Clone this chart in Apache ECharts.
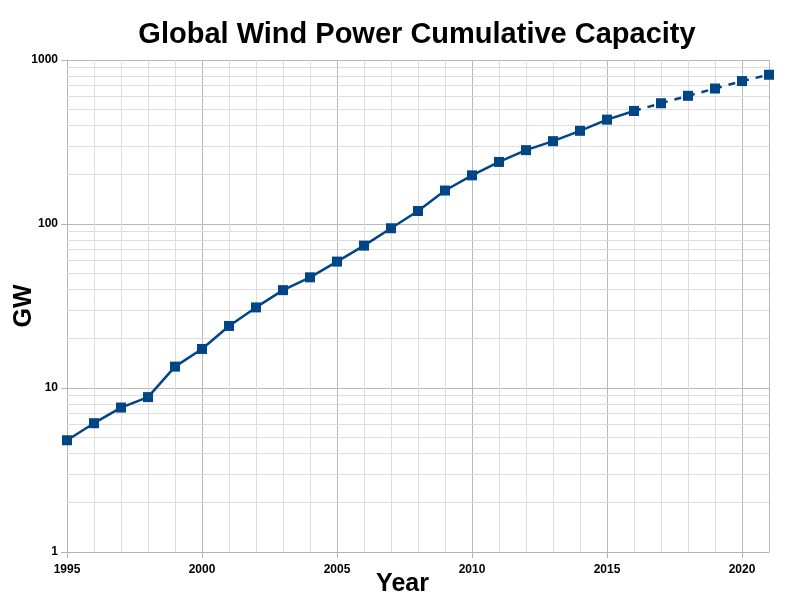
<!DOCTYPE html>
<html><head><meta charset="utf-8">
<script src="https://cdn.jsdelivr.net/npm/echarts@6/dist/echarts.min.js"></script>
<style>html,body{margin:0;padding:0;background:#fff}#c{width:800px;height:600px}</style>
</head><body><div id="c"></div>
<script>
const years = [1995,1996,1997,1998,1999,2000,2001,2002,2003,2004,2005,2006,2007,2008,2009,2010,2011,2012,2013,2014,2015,2016,2017,2018,2019,2020,2021];
const capacityActual = [4.8,6.1,7.6,8.8,13.5,17.3,23.9,31.0,39.5,47.3,59.0,73.8,94.2,120,160,198,239,282,320,370,433,489,null,null,null,null,null];
const capacityProjected = [null,null,null,null,null,null,null,null,null,null,null,null,null,null,null,null,null,null,null,null,null,489,545,605,670,744,813];
const xTickLabels = [1995,2000,2005,2010,2015,2020];
const yMinorGrid = [2,3,4,5,6,7,8,9,20,30,40,50,60,70,80,90,200,300,400,500,600,700,800,900];

const font = '"Liberation Sans", Arial, sans-serif';
const blue = '#004586';
const chart = echarts.init(document.getElementById('c'), null, {renderer:'canvas'});
chart.setOption({
  animation:false,
  backgroundColor:'#fff',
  title:{text:'Global Wind Power Cumulative Capacity', left:412, top:15, textAlign:'center',
    textStyle:{fontFamily:font, fontWeight:'bold', fontSize:29, color:'#000'}},
  grid:{left:67, right:31, top:60, bottom:48, containLabel:false, outerBoundsMode:'none'},
  xAxis:[
    {type:'value', min:1995, max:2021, interval:1, position:'bottom',
      axisLine:{show:true, onZero:false, lineStyle:{color:'#b3b3b3', width:1}},
      axisTick:{show:false}, axisLabel:{show:false},
      splitLine:{show:true, lineStyle:{color:'#dddddd', width:1}}
    },
    {type:'value', min:1995, max:2021, interval:5, position:'bottom', offset:0,
      name:'Year', nameLocation:'middle', nameGap:20, nameMoveOverlap:false,
      nameTextStyle:{fontFamily:font, fontWeight:'bold', fontSize:25, color:'#000', padding:[0,31,0,0]},
      axisLine:{show:false, onZero:false},
      axisTick:{show:true, length:6, lineStyle:{color:'#b3b3b3'}},
      axisLabel:{formatter:v=>(xTickLabels.indexOf(v)>=0 ? String(v) : ''), fontFamily:font, fontWeight:'bold', fontSize:12, color:'#000', margin:12, showMaxLabel:false},
      splitLine:{show:true, lineStyle:{color:'#b8b8b8', width:1}}
    }
  ],
  yAxis:{type:'log', logBase:10, min:1, max:1000,
    name:'GW', nameLocation:'middle', nameGap:30, nameRotate:90, nameMoveOverlap:false,
    nameTextStyle:{fontFamily:font, fontWeight:'bold', fontSize:25, color:'#000'},
    axisLine:{show:true, lineStyle:{color:'#b3b3b3', width:1}},
    axisTick:{show:true, length:6, lineStyle:{color:'#b3b3b3'}},
    axisLabel:{formatter:v=>String(v), fontFamily:font, fontWeight:'bold', fontSize:12, color:'#000', margin:9},
    splitLine:{show:true, lineStyle:{color:'#b8b8b8', width:1}}
  },
  series:[
    {type:'line', data:[], z:1, silent:true,
      markLine:{silent:true, z:1, symbol:'none', label:{show:false},
        lineStyle:{color:'#dddddd', width:1, type:'solid'},
        emphasis:{disabled:true},
        data:yMinorGrid.map(v=>({yAxis:v}))}},
    {type:'line', data:years.map((y,i)=>[y,capacityActual[i]]), connectNulls:false,
      symbol:'rect', symbolSize:10, z:3,
      lineStyle:{color:blue, width:2.5}, itemStyle:{color:blue}},
    {type:'line', data:years.map((y,i)=>[y,capacityProjected[i]]), connectNulls:false,
      symbol:'rect', symbolSize:10, z:3,
      lineStyle:{color:blue, width:2.5, type:[7,7]}, itemStyle:{color:blue}}
  ]
});
</script></body></html>
